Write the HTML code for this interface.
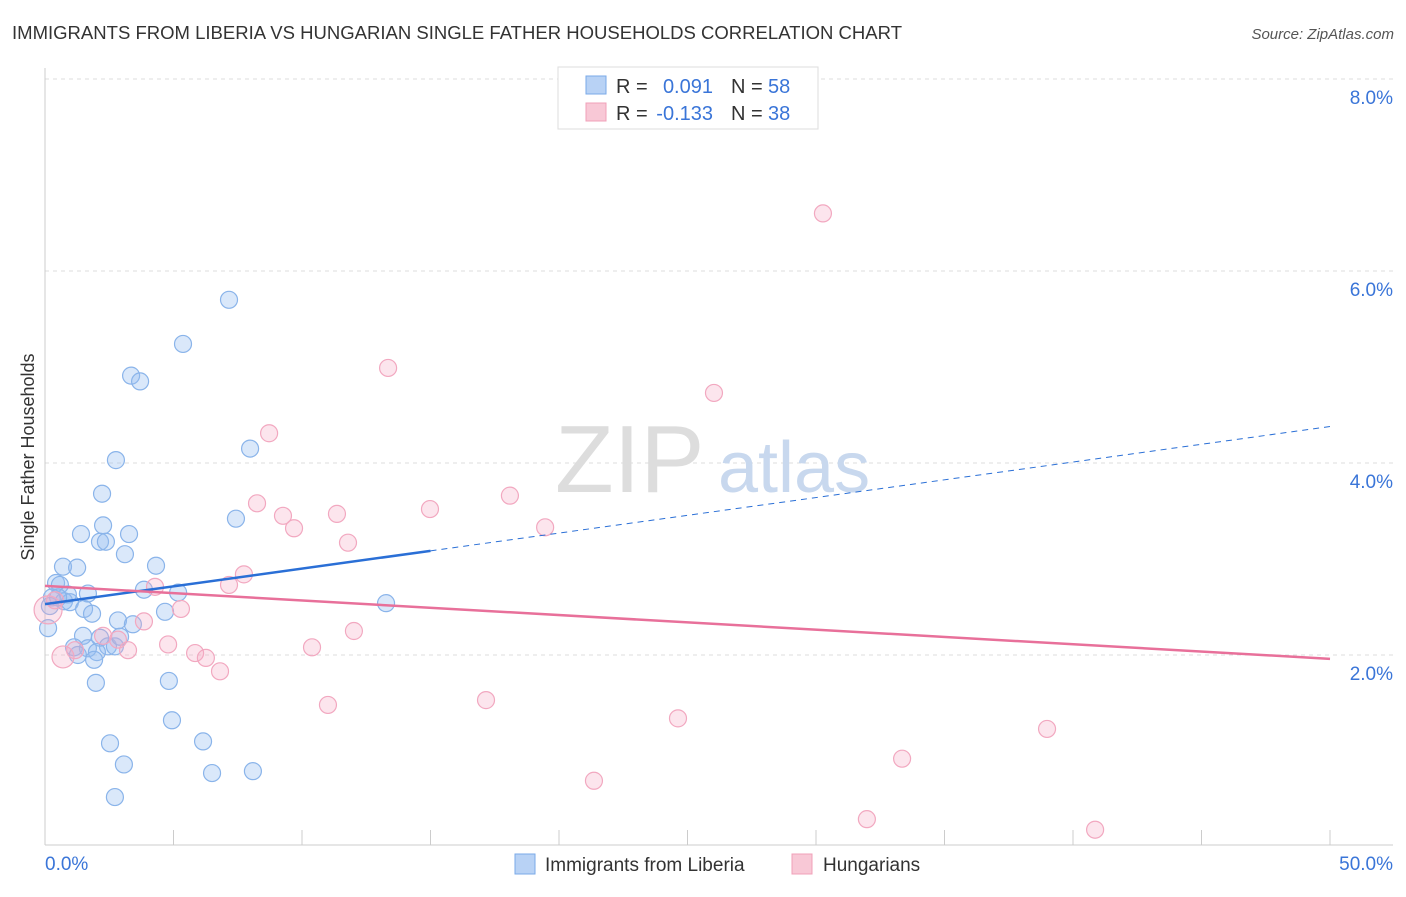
<!DOCTYPE html>
<html><head><meta charset="utf-8"><style>
body{margin:0;background:#fff;font-family:"Liberation Sans",sans-serif;}
svg text{font-family:"Liberation Sans",sans-serif;}
</style></head><body>
<svg id="c" width="1406" height="892">
<text x="12" y="39" font-size="18" fill="#333" textLength="890" lengthAdjust="spacingAndGlyphs">IMMIGRANTS FROM LIBERIA VS HUNGARIAN SINGLE FATHER HOUSEHOLDS CORRELATION CHART</text>
<text x="1394" y="39" font-size="15" fill="#555" font-style="italic" text-anchor="end">Source: ZipAtlas.com</text>
<text transform="translate(34,457) rotate(-90)" font-size="18" fill="#333" text-anchor="middle">Single Father Households</text>
<g id="grid"></g>
<text x="555" y="492" font-size="96" fill="#ddd" font-family="Liberation Serif">ZIP</text>
<text x="718" y="492" font-size="72" fill="#c8d8ee">atlas</text>
<g id="marks"></g>
<g>
<rect x="558" y="67" width="260" height="62" fill="#fff" stroke="#ddd"/>
<rect x="586" y="76" width="20" height="18" fill="#b8d2f5" stroke="#7aaae8"/>
<rect x="586" y="103" width="20" height="18" fill="#f8c8d6" stroke="#f0a0b8"/>
<text x="616" y="93" font-size="20" fill="#333">R =</text>
<text x="713" y="93" font-size="20" fill="#3a75d8" text-anchor="end">0.091</text>
<text x="731" y="93" font-size="20" fill="#333">N =</text>
<text x="768" y="93" font-size="20" fill="#3a75d8">58</text>
<text x="616" y="120" font-size="20" fill="#333">R =</text>
<text x="713" y="120" font-size="20" fill="#3a75d8" text-anchor="end">-0.133</text>
<text x="731" y="120" font-size="20" fill="#333">N =</text>
<text x="768" y="120" font-size="20" fill="#3a75d8">38</text>
</g>
<g>
<rect x="515" y="854" width="20" height="20" fill="#b8d2f5" stroke="#7aaae8"/>
<text x="545" y="871" font-size="19" fill="#333">Immigrants from Liberia</text>
<rect x="792" y="854" width="20" height="20" fill="#f8c8d6" stroke="#f0a0b8"/>
<text x="823" y="871" font-size="19" fill="#333">Hungarians</text>
</g>
</svg>
<script>
const blueX=[7.16,5.37,3.35,3.70,7.98,2.76,2.22,7.43,1.40,2.26,3.27,2.14,2.37,3.11,0.70,1.25,4.32,0.43,0.58,3.85,5.18,1.67,0.89,0.27,0.74,0.97,0.19,1.52,4.67,1.83,2.84,3.42,0.12,2.14,1.48,1.13,1.67,2.45,2.72,2.02,1.28,1.91,4.82,1.98,13.27,4.94,2.53,6.15,3.07,6.50,8.09,2.72,2.92,0.51];
const blueY=[5.70,5.24,4.91,4.85,4.15,4.03,3.68,3.42,3.26,3.35,3.26,3.18,3.18,3.05,2.92,2.91,2.93,2.75,2.73,2.68,2.65,2.64,2.63,2.60,2.56,2.55,2.51,2.48,2.45,2.43,2.36,2.32,2.28,2.18,2.20,2.08,2.07,2.09,2.09,2.03,2.00,1.95,1.73,1.71,2.54,1.32,1.08,1.10,0.86,0.77,0.79,0.52,2.19,2.60];
const pinkX=[30.27,13.35,26.03,8.72,18.09,8.25,14.98,9.26,11.36,9.69,19.46,11.79,7.74,7.16,4.28,5.29,3.85,12.02,2.26,2.84,4.79,10.39,5.84,6.26,3.23,1.17,0.70,6.81,17.16,11.01,24.63,38.99,33.35,21.36,31.98,40.86,0.12,0.39];
const pinkY=[6.60,4.99,4.73,4.31,3.66,3.58,3.52,3.45,3.47,3.32,3.33,3.17,2.84,2.73,2.71,2.48,2.35,2.25,2.20,2.16,2.11,2.08,2.02,1.97,2.05,2.05,1.98,1.83,1.53,1.48,1.34,1.23,0.92,0.69,0.29,0.18,2.47,2.57];
const pinkR=[8.5,8.5,8.5,8.5,8.5,8.5,8.5,8.5,8.5,8.5,8.5,8.5,8.5,8.5,8.5,8.5,8.5,8.5,8.5,8.5,8.5,8.5,8.5,8.5,8.5,8.5,11,8.5,8.5,8.5,8.5,8.5,8.5,8.5,8.5,8.5,14,8.5];
const blueTrend=[2.53,4.38]; const blueSolidEnd=15;
const pinkTrend=[2.72,1.96];
const yTicks=[2,4,6,8]; const yTickLabels=["2.0%","4.0%","6.0%","8.0%"];
const xTickLabels=["0.0%","50.0%"];
const NS="http://www.w3.org/2000/svg";
const sx=v=>45+v/50*1285, sy=v=>847-v*96;
function mk(t,a,p){const e=document.createElementNS(NS,t);for(const k in a)e.setAttribute(k,a[k]);p.appendChild(e);return e;}
const g=document.getElementById('grid'), m=document.getElementById('marks');
yTicks.forEach((t,i)=>{
 const l=mk('line',{x1:45,x2:1393,y1:sy(t),y2:sy(t),stroke:'#ddd','stroke-dasharray':'4,4'},g);
 
 
 const tx=mk('text',{x:1393,y:sy(t)+25,'font-size':19,fill:'#3a75d8','text-anchor':'end'},g);tx.textContent=yTickLabels[i];
 
 
});
mk('line',{x1:45,x2:45,y1:68,y2:845,stroke:'#ccc'},g);
mk('line',{x1:45,x2:1393,y1:845,y2:845,stroke:'#ccc'},g);
for(let i=0;i<=10;i++){const x=sx(i*5);mk('line',{x1:x,x2:x,y1:845,y2:830,stroke:'#ccc'},g);}
const xl0=mk('text',{x:45,y:870,'font-size':19,fill:'#3a75d8'},g);xl0.textContent=xTickLabels[0];


const xl1=mk('text',{x:1393,y:870,'font-size':19,fill:'#3a75d8','text-anchor':'end'},g);xl1.textContent=xTickLabels[1];


blueX.forEach((x,i)=>{const c=mk('circle',{cx:sx(x),cy:sy(blueY[i]),r:8.5,fill:'rgba(150,190,240,0.35)',stroke:'#8ab4ea','stroke-width':1.2},m);
 
 });
pinkX.forEach((x,i)=>{const c=mk('circle',{cx:sx(x),cy:sy(pinkY[i]),r:pinkR[i],fill:'rgba(245,170,195,0.3)',stroke:'#f2a8c0','stroke-width':1.2},m);
 
 });
const bAt=v=>blueTrend[0]+(blueTrend[1]-blueTrend[0])*v/50;
const t1=mk('line',{x1:sx(0),y1:sy(bAt(0)),x2:sx(blueSolidEnd),y2:sy(bAt(blueSolidEnd)),stroke:'#2a6fd6','stroke-width':2.5},m);


const t2=mk('line',{x1:sx(blueSolidEnd),y1:sy(bAt(blueSolidEnd)),x2:sx(50),y2:sy(bAt(50)),stroke:'#2a6fd6','stroke-width':1,'stroke-dasharray':'6,5'},m);


const t3=mk('line',{x1:sx(0),y1:sy(pinkTrend[0]),x2:sx(50),y2:sy(pinkTrend[1]),stroke:'#e8709a','stroke-width':2.5},m);


</script>
</body></html>
